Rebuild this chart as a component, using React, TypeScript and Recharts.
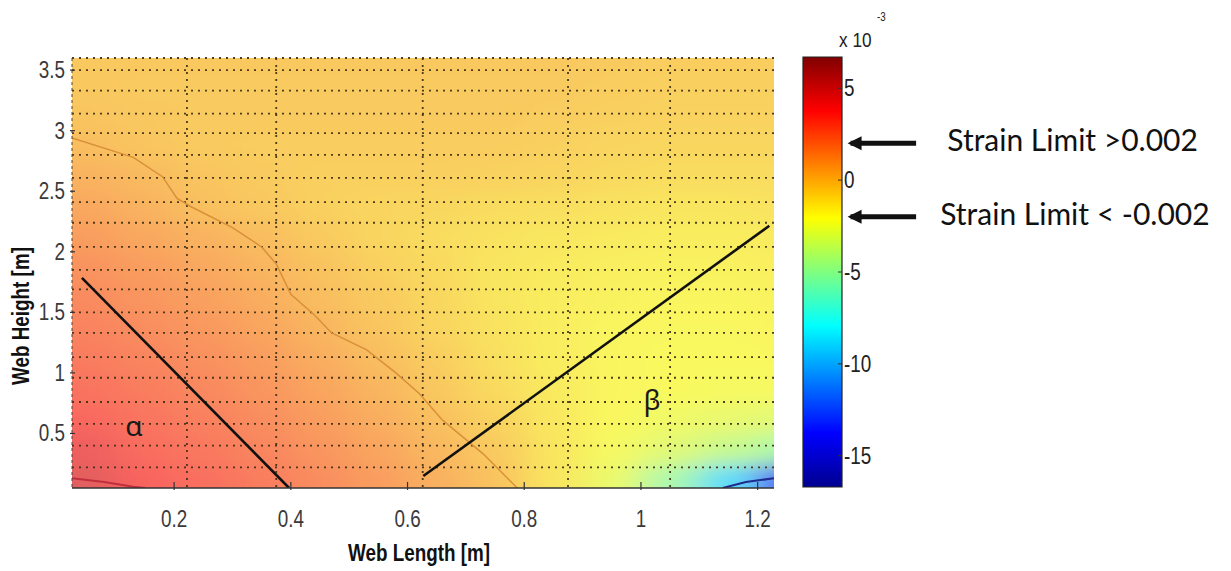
import { ComposedChart, XAxis, YAxis, CartesianGrid, Scatter, Line, ReferenceArea } from 'recharts'

// Strain field (x10^-3), rows bottom -> top
const xCenters = [0.05, 0.15, 0.25, 0.35, 0.45, 0.55, 0.65, 0.75, 0.85, 0.95, 1.05, 1.15, 1.25]
const yCenters = [0.125, 0.375, 0.625, 0.875, 1.125, 1.375, 1.625, 1.875, 2.125, 2.375, 2.625, 2.875, 3.125, 3.375, 3.625]
const strainRows = [
  [4.6, 3.6, 3.1, 2.6, 2.0, 1.4, 0.7, 0.0, -1.3, -2.6, -5.0, -9.0, -14.0],
  [4.2, 3.2, 2.8, 2.3, 1.7, 1.1, 0.4, -0.3, -1.3, -2.2, -3.0, -4.0, -5.0],
  [3.4, 2.9, 2.5, 2.0, 1.4, 0.8, 0.1, -0.6, -1.4, -2.0, -2.4, -2.7, -3.0],
  [3.0, 2.6, 2.2, 1.7, 1.1, 0.5, -0.2, -0.9, -1.5, -1.9, -2.1, -2.2, -2.2],
  [2.7, 2.3, 1.9, 1.4, 0.8, 0.2, -0.4, -1.1, -1.6, -1.9, -2.1, -2.1, -2.0],
  [2.4, 2.0, 1.6, 1.1, 0.5, -0.1, -0.7, -1.2, -1.6, -1.9, -2.0, -2.0, -1.9],
  [2.1, 1.7, 1.3, 0.8, 0.2, -0.3, -0.8, -1.3, -1.6, -1.8, -1.9, -1.9, -1.8],
  [1.8, 1.4, 1.0, 0.5, 0.0, -0.5, -0.9, -1.3, -1.5, -1.7, -1.8, -1.8, -1.7],
  [1.4, 1.0, 0.6, 0.2, -0.3, -0.7, -1.0, -1.2, -1.4, -1.5, -1.6, -1.6, -1.5],
  [1.0, 0.6, 0.1, -0.2, -0.5, -0.7, -0.8, -1.0, -1.1, -1.2, -1.3, -1.3, -1.2],
  [0.6, 0.3, -0.1, -0.3, -0.5, -0.5, -0.5, -0.6, -0.7, -0.9, -1.0, -1.0, -1.0],
  [0.2, -0.1, -0.3, -0.4, -0.4, -0.4, -0.4, -0.4, -0.5, -0.7, -0.8, -0.8, -0.8],
  [-0.1, -0.2, -0.3, -0.3, -0.3, -0.3, -0.3, -0.3, -0.4, -0.5, -0.6, -0.6, -0.6],
  [-0.2, -0.3, -0.3, -0.3, -0.3, -0.3, -0.3, -0.3, -0.3, -0.4, -0.5, -0.5, -0.5],
  [-0.2, -0.2, -0.2, -0.2, -0.2, -0.2, -0.2, -0.2, -0.2, -0.3, -0.4, -0.4, -0.4],
]

// contour lines
const contourZero = [
  { x: 0.025, y: 2.94 }, { x: 0.13, y: 2.78 }, { x: 0.18, y: 2.62 }, { x: 0.205, y: 2.44 },
  { x: 0.23, y: 2.37 }, { x: 0.3, y: 2.2 }, { x: 0.35, y: 2.04 }, { x: 0.375, y: 1.9 },
  { x: 0.4, y: 1.65 }, { x: 0.44, y: 1.48 }, { x: 0.47, y: 1.33 }, { x: 0.53, y: 1.19 },
  { x: 0.58, y: 1.0 }, { x: 0.62, y: 0.83 }, { x: 0.66, y: 0.61 }, { x: 0.73, y: 0.33 }, { x: 0.79, y: 0.04 },
]
const contourRed = [{ x: 0.025, y: 0.13 }, { x: 0.08, y: 0.1 }, { x: 0.13, y: 0.06 }, { x: 0.15, y: 0.05 }]
const contourBlue = [{ x: 1.14, y: 0.05 }, { x: 1.18, y: 0.1 }, { x: 1.228, y: 0.13 }]

// drawn guide lines and their labels
const alphaLine = [{ x: 0.042, y: 1.785 }, { x: 0.397, y: 0.05 }]
const betaLine = [{ x: 0.627, y: 0.149 }, { x: 1.22, y: 2.215 }]
const zoneLabels = [{ x: 0.131, y: 0.48, text: 'α' }, { x: 1.019, y: 0.69, text: 'β' }]

const xTicks = [0.2, 0.4, 0.6, 0.8, 1, 1.2]
const yTicks = [0.5, 1, 1.5, 2, 2.5, 3, 3.5]
const gridX = [0.222, 0.375, 0.626, 0.875, 1.05]
const gridY = [0.22, 0.4, 0.58, 0.76, 0.96, 1.13, 1.33, 1.5, 1.69, 1.85, 2.04, 2.24, 2.41, 2.61, 2.8, 2.98, 3.14, 3.33, 3.5, 3.6]

// colour bar
const cbTicks = [5, 0, -5, -10, -15]
const arrowHigh = [{ x: 1.22, y: 2 }, { x: 2.9, y: 2 }]
const arrowLow = [{ x: 1.22, y: -2 }, { x: 2.9, y: -2 }]
const strainNotes = [
  { x: 3.7, y: 2, text: 'Strain Limit >0.002' },
  { x: 3.52, y: -2, text: 'Strain Limit < -0.002' },
]

const X_MIN = 0.025
const X_MAX = 1.228
const Y_MIN = 0.05
const Y_MAX = 3.6
const CB_MIN = -16.7
const CB_MAX = 6.7
const PLOT_W = 702
const PLOT_H = 430
const CELL_W = (0.1 * PLOT_W) / (X_MAX - X_MIN)
const CELL_H = (0.25 * PLOT_H) / (Y_MAX - Y_MIN)
const ARIAL = "'Liberation Sans', Arial, sans-serif"

const heatCells = strainRows.flatMap((row, r) =>
  row.map((v, c) => ({ x: xCenters[c], y: yCenters[r], v, row: r, col: c }))
)

function jet(t: number) {
  const cl = (n: number) => Math.max(0, Math.min(1, n))
  return [cl(1.5 - Math.abs(4 * t - 3)), cl(1.5 - Math.abs(4 * t - 2)), cl(1.5 - Math.abs(4 * t - 1))]
}

function strainColor(v: number) {
  const t = (v - CB_MIN) / (CB_MAX - CB_MIN)
  const a = 0.62
  const [r, g, b] = jet(t).map(c => Math.round(248 * (1 - a) + c * 250 * a))
  return `rgb(${r},${g},${b})`
}

// Arial squeezed to 82% width, standing in for the narrow MATLAB font
const Narrow = ({ x, y, anchor = 'start', size, bold = false, fill = '#3a3a3a', children }: any) => (
  <text
    transform={`translate(${x},${y}) scale(0.82,1)`}
    textAnchor={anchor}
    fontFamily={ARIAL}
    fontSize={size}
    fontWeight={bold ? 'bold' : 'normal'}
    fill={fill}
  >
    {children}
  </text>
)

const HeatCell = (props: any) => {
  const { cx, cy, payload } = props
  let x0 = cx - CELL_W / 2
  let x1 = cx + CELL_W / 2
  let y0 = cy - CELL_H / 2
  let y1 = cy + CELL_H / 2
  if (payload.col === 0) x0 -= 60
  if (payload.col === xCenters.length - 1) x1 += 60
  if (payload.row === 0) y1 += 60
  if (payload.row === yCenters.length - 1) y0 -= 60
  return <rect x={x0} y={y0} width={x1 - x0 + 1} height={y1 - y0 + 1} fill={strainColor(payload.v)} />
}

const XTick = (props: any) => {
  const { x, y, payload } = props
  return (
    <g>
      <line x1={x} y1={y} x2={x} y2={y - 8} stroke="#333" strokeWidth={1.2} />
      <Narrow x={x} y={y + 37} anchor="middle" size={23}>{payload.value}</Narrow>
    </g>
  )
}

const YTick = (props: any) => {
  const { x, y, payload } = props
  return (
    <g>
      <line x1={x} y1={y} x2={x + 5} y2={y} stroke="#333" strokeWidth={1.2} />
      <Narrow x={x - 5} y={y + 8} anchor="end" size={23}>{payload.value}</Narrow>
    </g>
  )
}

const XTitle = (props: any) => {
  const vb = props.viewBox || { x: 72, y: 488, width: 702, height: 50 }
  return (
    <Narrow x={vb.x + vb.width / 2 - 4} y={vb.y + 73} anchor="middle" size={23} bold fill="#111">
      Web Length [m]
    </Narrow>
  )
}

const YTitle = (props: any) => {
  const vb = props.viewBox || { x: 12, y: 58, width: 60, height: 430 }
  const cx = vb.x + 9
  const cy = vb.y + vb.height / 2 + 43
  return (
    <g transform={`rotate(-90, ${cx}, ${cy})`}>
      <Narrow x={cx} y={cy + 8} anchor="middle" size={23} bold fill="#111">
        Web Height [m]
      </Narrow>
    </g>
  )
}

const ZoneLabel = (props: any) => {
  const { cx, cy, payload } = props
  return (
    <text x={cx} y={cy} textAnchor="middle" fontFamily="'Noto Sans', 'Open Sans', sans-serif" fontSize={28} fill="#1a1a1a">
      {payload.text}
    </text>
  )
}

const CbTick = (props: any) => {
  const { cx, cy, payload } = props
  return (
    <g>
      <line x1={cx - 4} y1={cy} x2={cx} y2={cy} stroke="#333" />
      <Narrow x={cx + 2} y={cy + 8} size={23} fill="#222">{payload.y}</Narrow>
    </g>
  )
}

const NoteText = (props: any) => {
  const { cx, cy, payload } = props
  return (
    <text x={cx} y={cy + 8} textAnchor="start" fontFamily="Lato, 'Open Sans', sans-serif" fontSize={30} fill="#111">
      {payload.text}
    </text>
  )
}

const ArrowHead = (props: any) => {
  const { cx, cy, index } = props
  if (index !== 0) return <g key={`ah-${index}`} />
  return <polygon key={`ah-${index}`} points={`${cx - 3},${cy} ${cx + 11},${cy - 7} ${cx + 11},${cy + 7}`} fill="#111" />
}

const CbTitle = (props: any) => {
  const vb = props.viewBox || { x: 803, y: 57 }
  return (
    <g>
      <Narrow x={vb.x + 36} y={vb.y - 10} size={21} fill="#222">x 10</Narrow>
      <Narrow x={vb.x + 74} y={vb.y - 36} size={12} fill="#222">-3</Narrow>
    </g>
  )
}

export default function App() {
  return (
    <div style={{ position: 'absolute', left: 0, top: 0, width: 1231, height: 571, background: '#fff' }}>
      <style>{'.heat-layer { filter: url(#heatBlur); }'}</style>
      <div style={{ position: 'absolute', left: 0, top: 0 }}>
        <ComposedChart width={790} height={571} margin={{ top: 58, right: 16, bottom: 33, left: 12 }}>
          <defs>
            <filter id="heatBlur" x="-10%" y="-10%" width="120%" height="120%">
              <feGaussianBlur stdDeviation="18 9" />
            </filter>
          </defs>
          <XAxis
            type="number"
            dataKey="x"
            domain={[X_MIN, X_MAX]}
            allowDataOverflow
            ticks={xTicks}
            interval={0}
            height={50}
            tickSize={0}
            tickLine={false}
            axisLine={{ stroke: '#333', strokeWidth: 1.5 }}
            tick={XTick}
            label={<XTitle />}
          />
          <YAxis
            type="number"
            dataKey="y"
            domain={[Y_MIN, Y_MAX]}
            allowDataOverflow
            ticks={yTicks}
            interval={0}
            width={60}
            tickSize={0}
            tickLine={false}
            axisLine={{ stroke: '#444', strokeDasharray: '3 3' }}
            tick={YTick}
            label={<YTitle />}
          />
          <Scatter data={heatCells} dataKey="y" shape={HeatCell} className="heat-layer" isAnimationActive={false} zIndex={-10} />
          <CartesianGrid
            horizontalValues={gridY}
            verticalValues={gridX}
            stroke="#3a2c14"
            strokeOpacity={0.9}
            strokeDasharray="2 5"
            strokeWidth={1.8}
            zIndex={10}
          />
          <Line data={contourZero} dataKey="y" type="linear" stroke="#d8903a" strokeWidth={1.5} dot={false} isAnimationActive={false} />
          <Line data={contourRed} dataKey="y" type="linear" stroke="#c0303c" strokeWidth={2} dot={false} isAnimationActive={false} />
          <Line data={contourBlue} dataKey="y" type="linear" stroke="#1e2a8c" strokeWidth={2} dot={false} isAnimationActive={false} />
          <Line data={alphaLine} dataKey="y" type="linear" stroke="#111" strokeWidth={2.6} dot={false} isAnimationActive={false} />
          <Line data={betaLine} dataKey="y" type="linear" stroke="#111" strokeWidth={2.6} dot={false} isAnimationActive={false} />
          <Scatter data={zoneLabels} dataKey="y" shape={ZoneLabel} isAnimationActive={false} />
        </ComposedChart>
      </div>
      <div style={{ position: 'absolute', left: 790, top: 0 }}>
        <ComposedChart width={441} height={571} margin={{ top: 57, right: 0, bottom: 84, left: 13 }}>
          <defs>
            <linearGradient id="jetGrad" x1="0" y1="1" x2="0" y2="0">
              <stop offset="0" stopColor="#00008f" />
              <stop offset="0.125" stopColor="#0000ff" />
              <stop offset="0.375" stopColor="#00ffff" />
              <stop offset="0.625" stopColor="#ffff00" />
              <stop offset="0.875" stopColor="#ff0000" />
              <stop offset="1" stopColor="#800000" />
            </linearGradient>
          </defs>
          <XAxis type="number" dataKey="x" domain={[0, 428 / 39]} hide allowDataOverflow />
          <YAxis type="number" dataKey="y" domain={[CB_MIN, CB_MAX]} hide allowDataOverflow />
          <ReferenceArea x1={0} x2={1} y1={CB_MIN} y2={CB_MAX} fill="url(#jetGrad)" fillOpacity={1} stroke="#222" strokeWidth={1.2} label={<CbTitle />} />
          <Scatter data={cbTicks.map(v => ({ x: 1, y: v }))} dataKey="y" shape={CbTick} isAnimationActive={false} />
          <Line data={arrowHigh} dataKey="y" type="linear" stroke="#111" strokeWidth={5} dot={ArrowHead} isAnimationActive={false} />
          <Line data={arrowLow} dataKey="y" type="linear" stroke="#111" strokeWidth={5} dot={ArrowHead} isAnimationActive={false} />
          <Scatter data={strainNotes} dataKey="y" shape={NoteText} isAnimationActive={false} />
        </ComposedChart>
      </div>
    </div>
  )
}
